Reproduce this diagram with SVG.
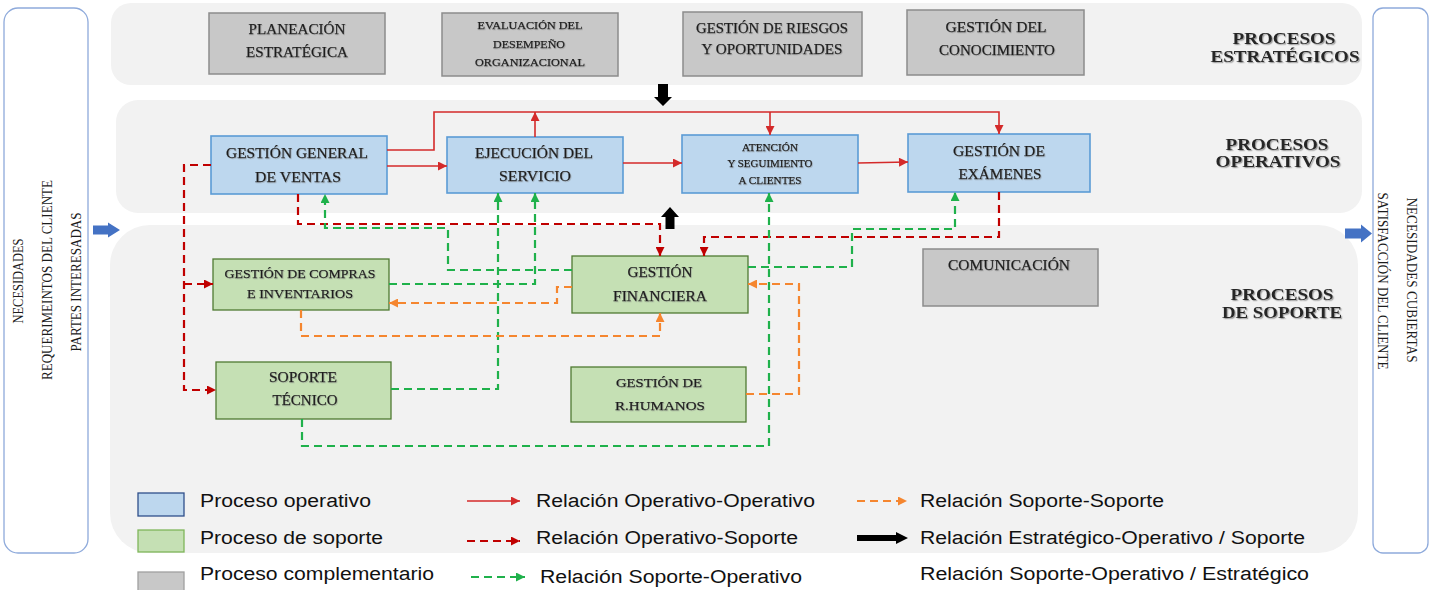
<svg xmlns="http://www.w3.org/2000/svg" width="1434" height="590" viewBox="0 0 1434 590">
<defs>
<style>
.panel{fill:#f2f2f2}
.side{fill:#fff;stroke:#8eaadb;stroke-width:1.3}
.gray{fill:#c8c8c8;stroke:#8c8c8c;stroke-width:1.5}
.blue{fill:#bdd7ee;stroke:#5b9bd5;stroke-width:1.6}
.green{fill:#c5e0b4;stroke:#4f7a32;stroke-width:1.3}
.t{font-family:"Liberation Serif","Times New Roman",serif;fill:#1c1c1c;stroke:#1c1c1c;stroke-width:0.25;text-anchor:middle;filter:url(#sh)}
.sec{font-family:"Liberation Serif","Times New Roman",serif;font-weight:bold;font-size:17px;fill:#262626;text-anchor:middle;filter:url(#sh2)}
.st{font-family:"Liberation Serif","Times New Roman",serif;font-size:14px;fill:#1c1c1c;text-anchor:middle}
.lg{font-family:"Liberation Sans",Arial,sans-serif;font-size:18px;fill:#111}
.rs{fill:none;stroke:#d42a2a;stroke-width:1.6}
.rd{fill:none;stroke:#c00000;stroke-width:2.2;stroke-dasharray:8 5}
.gd{fill:none;stroke:#1fb14b;stroke-width:2.2;stroke-dasharray:8 5}
.od{fill:none;stroke:#f5862f;stroke-width:2.2;stroke-dasharray:8 5}
</style>
<filter id="sh" x="-10%" y="-40%" width="120%" height="180%"><feDropShadow dx="0.8" dy="0.8" stdDeviation="0.5" flood-color="#7f7f7f" flood-opacity="0.5"/></filter>
<filter id="sh2" x="-10%" y="-40%" width="120%" height="180%"><feDropShadow dx="1.2" dy="1.2" stdDeviation="0.7" flood-color="#808080" flood-opacity="0.7"/></filter>
<marker id="mR" viewBox="0 0 10 10" refX="10" refY="5" markerWidth="10" markerHeight="9" markerUnits="userSpaceOnUse" orient="auto"><path d="M0,0L10,5L0,10z" fill="#d42a2a"/></marker>
<marker id="mRd" viewBox="0 0 10 10" refX="10" refY="5" markerWidth="10" markerHeight="9" markerUnits="userSpaceOnUse" orient="auto"><path d="M0,0L10,5L0,10z" fill="#c00000"/></marker>
<marker id="mG" viewBox="0 0 10 10" refX="10" refY="5" markerWidth="10" markerHeight="9" markerUnits="userSpaceOnUse" orient="auto"><path d="M0,0L10,5L0,10z" fill="#1fb14b"/></marker>
<marker id="mO" viewBox="0 0 10 10" refX="10" refY="5" markerWidth="10" markerHeight="9" markerUnits="userSpaceOnUse" orient="auto"><path d="M0,0L10,5L0,10z" fill="#f5862f"/></marker>
</defs>

<rect width="1434" height="590" fill="#fff"/>

<g id="panels">
<rect class="panel" x="111" y="3" width="1251" height="82" rx="20"/>
<rect class="panel" x="116" y="100" width="1246" height="113" rx="22"/>
<rect class="panel" x="110" y="225" width="1248" height="328" rx="40"/>
</g>

<g id="entrada">
<rect class="side" x="4" y="8" width="84" height="545" rx="14"/>
<text class="st" transform="translate(23,281) rotate(-90)" textLength="85" lengthAdjust="spacingAndGlyphs">NECESIDADES</text>
<text class="st" transform="translate(52,280) rotate(-90)" textLength="200" lengthAdjust="spacingAndGlyphs">REQUERIMEINTOS  DEL CLIENTE</text>
<text class="st" transform="translate(81,282) rotate(-90)" textLength="139" lengthAdjust="spacingAndGlyphs">PARTES INTERESADAS</text>
</g>

<g id="salida">
<rect class="side" x="1373" y="8" width="55" height="545" rx="10"/>
<text class="st" transform="translate(1407,280) rotate(90)" textLength="165" lengthAdjust="spacingAndGlyphs">NECESIDADES  CUBIERTAS</text>
<text class="st" transform="translate(1378,281) rotate(90)" textLength="177" lengthAdjust="spacingAndGlyphs">SATISFACCIÓN DEL CLIENTE</text>
</g>

<g id="flechas-entrada-salida" fill="#4472c4">
<polygon points="93,225.5 108,225.5 108,222.5 120,230 108,237.5 108,234.5 93,234.5"/>
<polygon points="1345,228.5 1361,228.5 1361,224.5 1372,233.5 1361,242.5 1361,238.5 1345,238.5"/>
</g>

<g id="etiquetas">
<text class="sec" x="1284" y="44" textLength="103" lengthAdjust="spacingAndGlyphs">PROCESOS</text>
<text class="sec" x="1285" y="62" textLength="149" lengthAdjust="spacingAndGlyphs">ESTRATÉGICOS</text>
<text class="sec" x="1277" y="150" textLength="103" lengthAdjust="spacingAndGlyphs">PROCESOS</text>
<text class="sec" x="1278" y="167" textLength="125" lengthAdjust="spacingAndGlyphs">OPERATIVOS</text>
<text class="sec" x="1282" y="300" textLength="103" lengthAdjust="spacingAndGlyphs">PROCESOS</text>
<text class="sec" x="1282" y="318" textLength="120" lengthAdjust="spacingAndGlyphs">DE SOPORTE</text>
</g>

<g id="n-planeacion">
<rect class="gray" x="209" y="13" width="176" height="61"/>
<text class="t" font-size="14" x="297" y="34" textLength="97" lengthAdjust="spacingAndGlyphs">PLANEACIÓN</text>
<text class="t" font-size="14" x="297" y="57" textLength="102" lengthAdjust="spacingAndGlyphs">ESTRATÉGICA</text>
</g>
<g id="n-evaluacion">
<rect class="gray" x="442" y="13" width="176" height="63"/>
<text class="t" font-size="11" x="530" y="29" textLength="105" lengthAdjust="spacingAndGlyphs">EVALUACIÓN DEL</text>
<text class="t" font-size="11" x="529" y="48" textLength="72" lengthAdjust="spacingAndGlyphs">DESEMPEÑO</text>
<text class="t" font-size="11" x="530" y="66" textLength="110" lengthAdjust="spacingAndGlyphs">ORGANIZACIONAL</text>
</g>
<g id="n-riesgos">
<rect class="gray" x="683" y="12" width="179" height="64"/>
<text class="t" font-size="14" x="772" y="33" textLength="152" lengthAdjust="spacingAndGlyphs">GESTIÓN DE RIESGOS</text>
<text class="t" font-size="14" x="772" y="54" textLength="141" lengthAdjust="spacingAndGlyphs">Y OPORTUNIDADES</text>
</g>
<g id="n-conocimiento">
<rect class="gray" x="907" y="10" width="177" height="65"/>
<text class="t" font-size="14" x="996" y="32" textLength="101" lengthAdjust="spacingAndGlyphs">GESTIÓN DEL</text>
<text class="t" font-size="14" x="997" y="55" textLength="116" lengthAdjust="spacingAndGlyphs">CONOCIMIENTO</text>
</g>

<g id="n-ventas">
<rect class="blue" x="211" y="136" width="176" height="58"/>
<text class="t" font-size="14.5" x="297" y="158" textLength="142" lengthAdjust="spacingAndGlyphs">GESTIÓN GENERAL</text>
<text class="t" font-size="14.5" x="298" y="182" textLength="86" lengthAdjust="spacingAndGlyphs">DE VENTAS</text>
</g>
<g id="n-ejecucion">
<rect class="blue" x="447" y="137" width="176" height="56"/>
<text class="t" font-size="14.5" x="534" y="158" textLength="118" lengthAdjust="spacingAndGlyphs">EJECUCIÓN DEL</text>
<text class="t" font-size="14.5" x="535" y="181" textLength="72" lengthAdjust="spacingAndGlyphs">SERVICIO</text>
</g>
<g id="n-atencion">
<rect class="blue" x="682" y="135" width="176" height="58"/>
<text class="t" font-size="11" x="770" y="151" textLength="56" lengthAdjust="spacingAndGlyphs">ATENCIÓN</text>
<text class="t" font-size="11" x="770" y="167" textLength="85" lengthAdjust="spacingAndGlyphs">Y SEGUIMIENTO</text>
<text class="t" font-size="11" x="770" y="184" textLength="63" lengthAdjust="spacingAndGlyphs">A CLIENTES</text>
</g>
<g id="n-examenes">
<rect class="blue" x="908" y="134" width="182" height="58"/>
<text class="t" font-size="14" x="999" y="156" textLength="92" lengthAdjust="spacingAndGlyphs">GESTIÓN DE</text>
<text class="t" font-size="14" x="1000" y="179" textLength="83" lengthAdjust="spacingAndGlyphs">EXÁMENES</text>
</g>

<g id="n-compras">
<rect class="green" x="213" y="259" width="176" height="51"/>
<text class="t" font-size="13.5" x="300" y="278" textLength="151" lengthAdjust="spacingAndGlyphs">GESTIÓN DE COMPRAS</text>
<text class="t" font-size="13.5" x="300" y="298" textLength="106" lengthAdjust="spacingAndGlyphs">E INVENTARIOS</text>
</g>
<g id="n-financiera">
<rect class="green" x="572" y="256" width="176" height="57"/>
<text class="t" font-size="14" x="660" y="277" textLength="65" lengthAdjust="spacingAndGlyphs">GESTIÓN</text>
<text class="t" font-size="14" x="660" y="301" textLength="94" lengthAdjust="spacingAndGlyphs">FINANCIERA</text>
</g>
<g id="n-soporte">
<rect class="green" x="216" y="362" width="175" height="57"/>
<text class="t" font-size="14" x="303" y="382" textLength="68" lengthAdjust="spacingAndGlyphs">SOPORTE</text>
<text class="t" font-size="14" x="305" y="405" textLength="65" lengthAdjust="spacingAndGlyphs">TÉCNICO</text>
</g>
<g id="n-rrhh">
<rect class="green" x="571" y="367" width="175" height="55"/>
<text class="t" font-size="13.5" x="659" y="387" textLength="86" lengthAdjust="spacingAndGlyphs">GESTIÓN DE</text>
<text class="t" font-size="13.5" x="660" y="410" textLength="90" lengthAdjust="spacingAndGlyphs">R.HUMANOS</text>
</g>
<g id="n-comunicacion">
<rect class="gray" x="923" y="249" width="175" height="57"/>
<text class="t" font-size="14" x="1009" y="270" textLength="122" lengthAdjust="spacingAndGlyphs">COMUNICACIÓN</text>
</g>

<g id="conectores">
<path class="rs" d="M387,150 H434 V112 H999 V134" marker-end="url(#mR)"/>
<path class="rs" d="M770,112 V135" marker-end="url(#mR)"/>
<path class="rs" d="M535,137 V112" marker-end="url(#mR)"/>
<path class="rs" d="M387,166 H447" marker-end="url(#mR)"/>
<path class="rs" d="M623,163 H682" marker-end="url(#mR)"/>
<path class="rs" d="M858,163 L908,162" marker-end="url(#mR)"/>

<path class="rd" d="M211,165 H184 V390 H216" marker-end="url(#mRd)"/>
<path class="rd" d="M184,284 H213" marker-end="url(#mRd)"/>
<path class="rd" d="M298,194 V224 H660 V256" marker-end="url(#mRd)"/>
<path class="rd" d="M999,192 V237 H704 V256" marker-end="url(#mRd)"/>

<path class="gd" d="M572,270 H448 V228 H325 V194" marker-end="url(#mG)"/>
<path class="gd" d="M389,284 H535 V193" marker-end="url(#mG)"/>
<path class="gd" d="M391,389 H498 V193" marker-end="url(#mG)"/>
<path class="gd" d="M302,419 V446 H769 V193" marker-end="url(#mG)"/>
<path class="gd" d="M748,267 H852 V229 H955 V192" marker-end="url(#mG)"/>

<path class="od" d="M572,287 H557 V303 H389" marker-end="url(#mO)"/>
<path class="od" d="M301,310 V336 H660 V313" marker-end="url(#mO)"/>
<path class="od" d="M746,394 H799 V284 H748" marker-end="url(#mO)"/>

<polygon points="658,84 668,84 668,97 672,97 663,106 654,97 658,97" fill="#000"/>
<polygon points="670,207 679,217 674.5,217 674.5,229 665.5,229 665.5,217 661,217" fill="#000"/>
</g>

<g id="leyenda">
<rect x="138" y="493" width="46" height="23" fill="#bdd7ee" stroke="#2f4f8a" stroke-width="1.3"/>
<rect x="138" y="530" width="46" height="22" fill="#c5e0b4" stroke="#7fb65a" stroke-width="1.3"/>
<rect x="138" y="572" width="46" height="22" fill="#c8c8c8" stroke="#a0a0a0" stroke-width="1.3"/>
<text class="lg" x="200" y="507" textLength="171" lengthAdjust="spacingAndGlyphs">Proceso operativo</text>
<text class="lg" x="200" y="544" textLength="183" lengthAdjust="spacingAndGlyphs">Proceso de soporte</text>
<text class="lg" x="200" y="580" textLength="234" lengthAdjust="spacingAndGlyphs">Proceso complementario</text>

<line class="rs" x1="467" y1="501" x2="520" y2="501" marker-end="url(#mR)"/>
<line class="rd" x1="467" y1="541" x2="520" y2="541" stroke-dasharray="6 5" marker-end="url(#mRd)"/>
<line class="gd" x1="471" y1="577" x2="525" y2="577" stroke-dasharray="6 5" marker-end="url(#mG)"/>
<text class="lg" x="536" y="507" textLength="279" lengthAdjust="spacingAndGlyphs">Relación Operativo-Operativo</text>
<text class="lg" x="536" y="544" textLength="262" lengthAdjust="spacingAndGlyphs">Relación Operativo-Soporte</text>
<text class="lg" x="540" y="583" textLength="262" lengthAdjust="spacingAndGlyphs">Relación Soporte-Operativo</text>

<line class="od" x1="857" y1="501" x2="907" y2="501" stroke-dasharray="6 5" marker-end="url(#mO)"/>
<polygon points="857,535 896,535 896,532 908,538 896,544 896,541 857,541" fill="#000"/>
<text class="lg" x="920" y="507" textLength="244" lengthAdjust="spacingAndGlyphs">Relación Soporte-Soporte</text>
<text class="lg" x="920" y="544" textLength="385" lengthAdjust="spacingAndGlyphs">Relación Estratégico-Operativo / Soporte</text>
<text class="lg" x="920" y="580" textLength="389" lengthAdjust="spacingAndGlyphs">Relación  Soporte-Operativo / Estratégico</text>
</g>
</svg>
